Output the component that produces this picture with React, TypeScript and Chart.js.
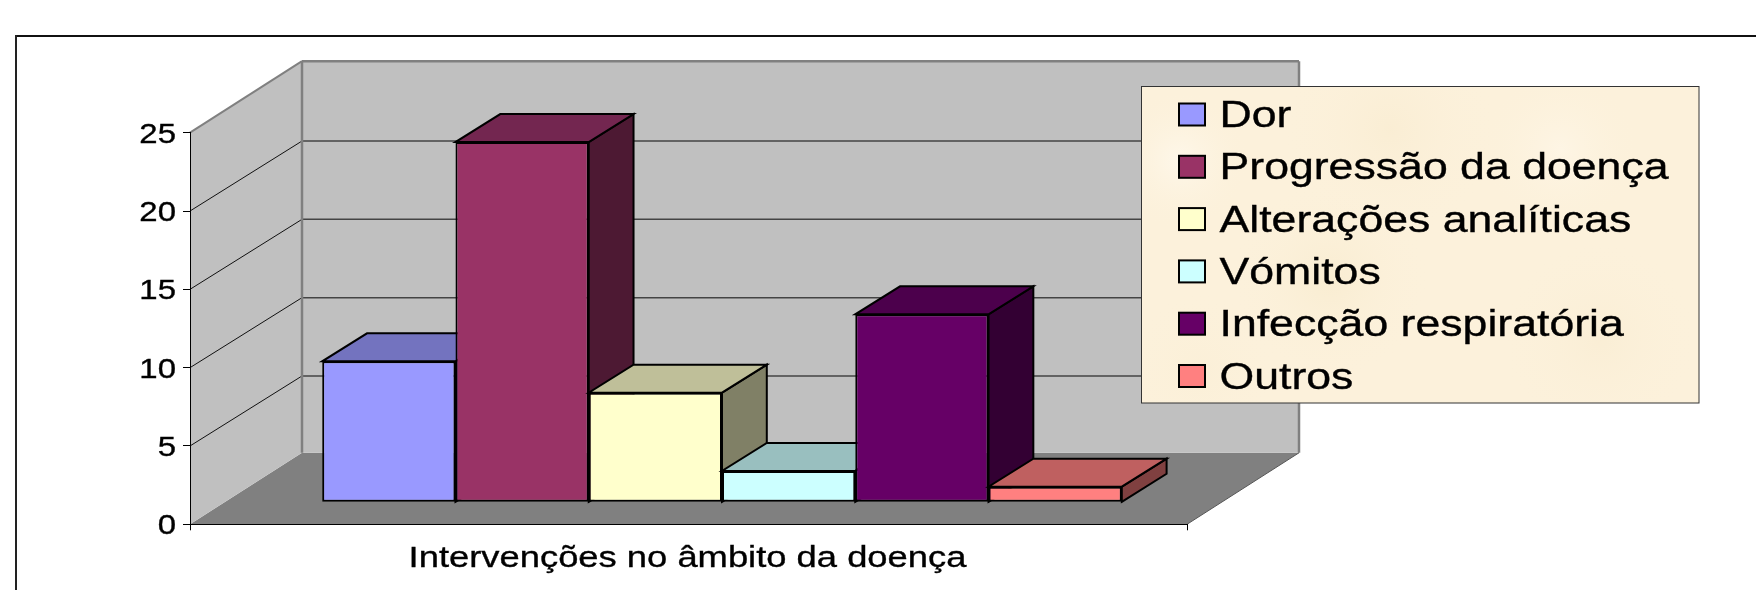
import React, { useEffect, useRef } from "react";
import { Chart, registerables } from "chart.js";

Chart.register(...registerables);

const categories = ["Intervenções no âmbito da doença"];
const seriesNames = ["Dor", "Progressão da doença", "Alterações analíticas", "Vómitos", "Infecção respiratória", "Outros"];
const seriesValues = [9, 23, 7, 2, 12, 1];
const frontColors = ["#9999FF", "#993366", "#FFFFCC", "#CCFFFF", "#660066", "#FF8080"];
const topColors = ["#7373BF", "#732650", "#BFBF99", "#99BFBF", "#4C004C", "#BF6060"];
const sideColors = ["#4D4D80", "#4D1933", "#808066", "#668080", "#330033", "#804040"];

const FONT = '"Liberation Sans", Arial, sans-serif';
const STRETCH = 1.22;
const WALL = { dx: 112, dy: -71.5 };
const GRID_DY = -70;
const BAR_FRONT = { dx: 33.5, dy: -22 };
const BAR_DEPTH = { dx: 44.8, dy: -28 };

function poly(ctx: CanvasRenderingContext2D, pts: number[][], fill?: string, stroke?: string, lw = 1) {
  ctx.beginPath();
  pts.forEach((p, i) => (i ? ctx.lineTo(p[0], p[1]) : ctx.moveTo(p[0], p[1])));
  ctx.closePath();
  if (fill) {
    ctx.fillStyle = fill;
    ctx.fill();
  }
  if (stroke) {
    ctx.strokeStyle = stroke;
    ctx.lineWidth = lw;
    ctx.stroke();
  }
}

function seg(ctx: CanvasRenderingContext2D, x1: number, y1: number, x2: number, y2: number, color: string, lw: number) {
  ctx.beginPath();
  ctx.moveTo(x1, y1);
  ctx.lineTo(x2, y2);
  ctx.strokeStyle = color;
  ctx.lineWidth = lw;
  ctx.stroke();
}

function text(
  ctx: CanvasRenderingContext2D,
  s: string,
  x: number,
  y: number,
  size: number,
  align: CanvasTextAlign
) {
  ctx.save();
  ctx.translate(x, y);
  ctx.scale(STRETCH, 1);
  ctx.font = `${size}px ${FONT}`;
  ctx.fillStyle = "#000";
  ctx.strokeStyle = "#000";
  ctx.lineWidth = 0.35;
  ctx.textAlign = align;
  ctx.textBaseline = "alphabetic";
  ctx.fillText(s, 0, 0);
  ctx.strokeText(s, 0, 0);
  ctx.restore();
}

const scene3d = {
  id: "scene3d",
  beforeDraw(chart: any) {
    const { ctx, chartArea: a, scales } = chart;
    const y = scales.y;
    ctx.save();
    // outer frame (top and left edges only)
    seg(ctx, 15, 36, 1756, 36, "#111", 2);
    seg(ctx, 16, 35, 16, 590, "#222", 2);
    const { dx, dy } = WALL;
    const b = a.bottom;
    const t = a.top;
    // floor
    poly(ctx, [[a.left, b], [a.right, b], [a.right + dx, b + dy], [a.left + dx, b + dy]], "#808080");
    // left wall
    poly(ctx, [[a.left, b], [a.left + dx, b + dy], [a.left + dx, t + dy], [a.left, t]], "#C0C0C0");
    // back wall
    poly(ctx, [[a.left + dx, b + dy], [a.right + dx, b + dy], [a.right + dx, t + dy], [a.left + dx, t + dy]], "#C0C0C0");
    // gridlines from the value scale
    for (const tick of y.ticks) {
      const py = y.getPixelForValue(tick.value);
      if (tick.value > 0 && tick.value < y.max) {
        seg(ctx, a.left, py, a.left + dx, py + GRID_DY, "#111", 1);
        seg(ctx, a.left + dx, py + GRID_DY, a.right + dx, py + GRID_DY, "#444", 1.5);
      }
    }
    // wall edges
    seg(ctx, a.left + dx, t + dy, a.left + dx, b + dy, "#808080", 2.5);
    seg(ctx, a.left + dx, t + dy, a.right + dx, t + dy, "#808080", 2.5);
    seg(ctx, a.right + dx, t + dy, a.right + dx, b + dy, "#808080", 2.5);
    seg(ctx, a.left, t, a.left + dx, t + dy, "#808080", 2);
    seg(ctx, a.right, b, a.right + dx, b + dy, "#555", 1);
    // value tick labels from the scale
    for (const tick of y.ticks) {
      text(ctx, String(tick.label), 176, y.getPixelForValue(tick.value) + 10, 27, "right");
    }
    // category label
    text(ctx, categories[0], (a.left + a.right) / 2 - 1, 566.5, 29.8, "center");
    ctx.restore();
  },
  // Chart.js paints datasets last-to-first; the 3D boxes must go first-to-last.
  beforeDatasetDraw() {
    return false;
  },
  afterDatasetsDraw(chart: any) {
    const { ctx } = chart;
    seriesNames.forEach((_, i) => {
      const meta = chart.getDatasetMeta(i);
      const bar = meta.data[0];
      const left = bar.x - bar.width / 2 + BAR_FRONT.dx;
      const right = bar.x + bar.width / 2 + BAR_FRONT.dx;
      const top = bar.y + BAR_FRONT.dy;
      const bottom = bar.base + BAR_FRONT.dy;
      const { dx, dy } = BAR_DEPTH;
      ctx.save();
      ctx.lineJoin = "miter";
      poly(ctx, [[right, bottom], [right + dx, bottom + dy], [right + dx, top + dy], [right, top]], sideColors[i], "#000", 2);
      poly(ctx, [[left, top], [right, top], [right + dx, top + dy], [left + dx, top + dy]], topColors[i], "#000", 2);
      ctx.translate(BAR_FRONT.dx, BAR_FRONT.dy);
      meta.controller.draw();
      ctx.restore();
    });
  },
  afterDraw(chart: any) {
    const { ctx } = chart;
    const lx = 1141.5, ly = 86.5, lw = 557.5, lh = 316.5;
    ctx.save();
    ctx.fillStyle = "#FCF1DB";
    ctx.fillRect(lx, ly, lw, lh);
    // soft parchment mottling
    ctx.beginPath();
    ctx.rect(lx, ly, lw, lh);
    ctx.clip();
    const blobs = [
      [1180, 160, 70, "rgba(255,250,240,0.7)"],
      [1560, 150, 80, "rgba(255,248,235,0.6)"],
      [1390, 130, 110, "rgba(247,233,203,0.45)"],
      [1330, 280, 100, "rgba(246,232,200,0.5)"],
      [1600, 340, 100, "rgba(248,235,208,0.55)"],
      [1200, 370, 80, "rgba(250,238,212,0.5)"],
    ] as [number, number, number, string][];
    for (const [x, y, r, c] of blobs) {
      const g = ctx.createRadialGradient(x, y, 0, x, y, r);
      g.addColorStop(0, c);
      g.addColorStop(1, "rgba(252,241,219,0)");
      ctx.fillStyle = g;
      ctx.fillRect(x - r, y - r, 2 * r, 2 * r);
    }
    ctx.restore();
    ctx.save();
    ctx.strokeStyle = "#333";
    ctx.lineWidth = 1;
    ctx.strokeRect(lx, ly, lw, lh);
    seriesNames.forEach((name, i) => {
      const cy = 114.5 + i * 52.3;
      ctx.fillStyle = frontColors[i];
      ctx.fillRect(1179, cy - 11, 26, 22);
      ctx.strokeStyle = "#000";
      ctx.lineWidth = 2;
      ctx.strokeRect(1179, cy - 11, 26, 22);
      text(ctx, name, 1219.5, cy + 12.5, 36.6, "left");
    });
    ctx.restore();
  },
};

export default function App() {
  const ref = useRef<HTMLCanvasElement>(null);
  useEffect(() => {
    const chart = new Chart(ref.current!, {
      type: "bar",
      data: {
        labels: categories,
        datasets: seriesNames.map((name, i) => ({
          label: name,
          data: [seriesValues[i]],
          backgroundColor: frontColors[i],
          borderColor: "#000",
          borderWidth: 2,
          borderSkipped: false,
          clip: false as any,
        })),
      },
      options: {
        responsive: false,
        animation: false,
        devicePixelRatio: 1,
        layout: { padding: { left: 183, top: 132.7, right: 569, bottom: 59.7 } },
        datasets: { bar: { categoryPercentage: 0.802, barPercentage: 1 } },
        plugins: { legend: { display: false }, tooltip: { enabled: false }, title: { display: false } },
        scales: {
          x: {
            grid: { drawOnChartArea: false, color: "#000", tickLength: 6, offset: true },
            border: { color: "#000", width: 1 },
            ticks: { display: false },
          },
          y: {
            min: 0,
            max: 25,
            grid: { drawOnChartArea: false, color: "#000", tickLength: 7 },
            border: { color: "#000", width: 1 },
            ticks: { display: false, stepSize: 5 },
          },
        },
      },
      plugins: [scene3d],
    } as any);
    return () => chart.destroy();
  }, []);
  return (
    <canvas
      ref={ref}
      width={1756}
      height={590}
      style={{ position: "absolute", left: 0, top: 0, width: 1756, height: 590, background: "#fff" }}
    />
  );
}
